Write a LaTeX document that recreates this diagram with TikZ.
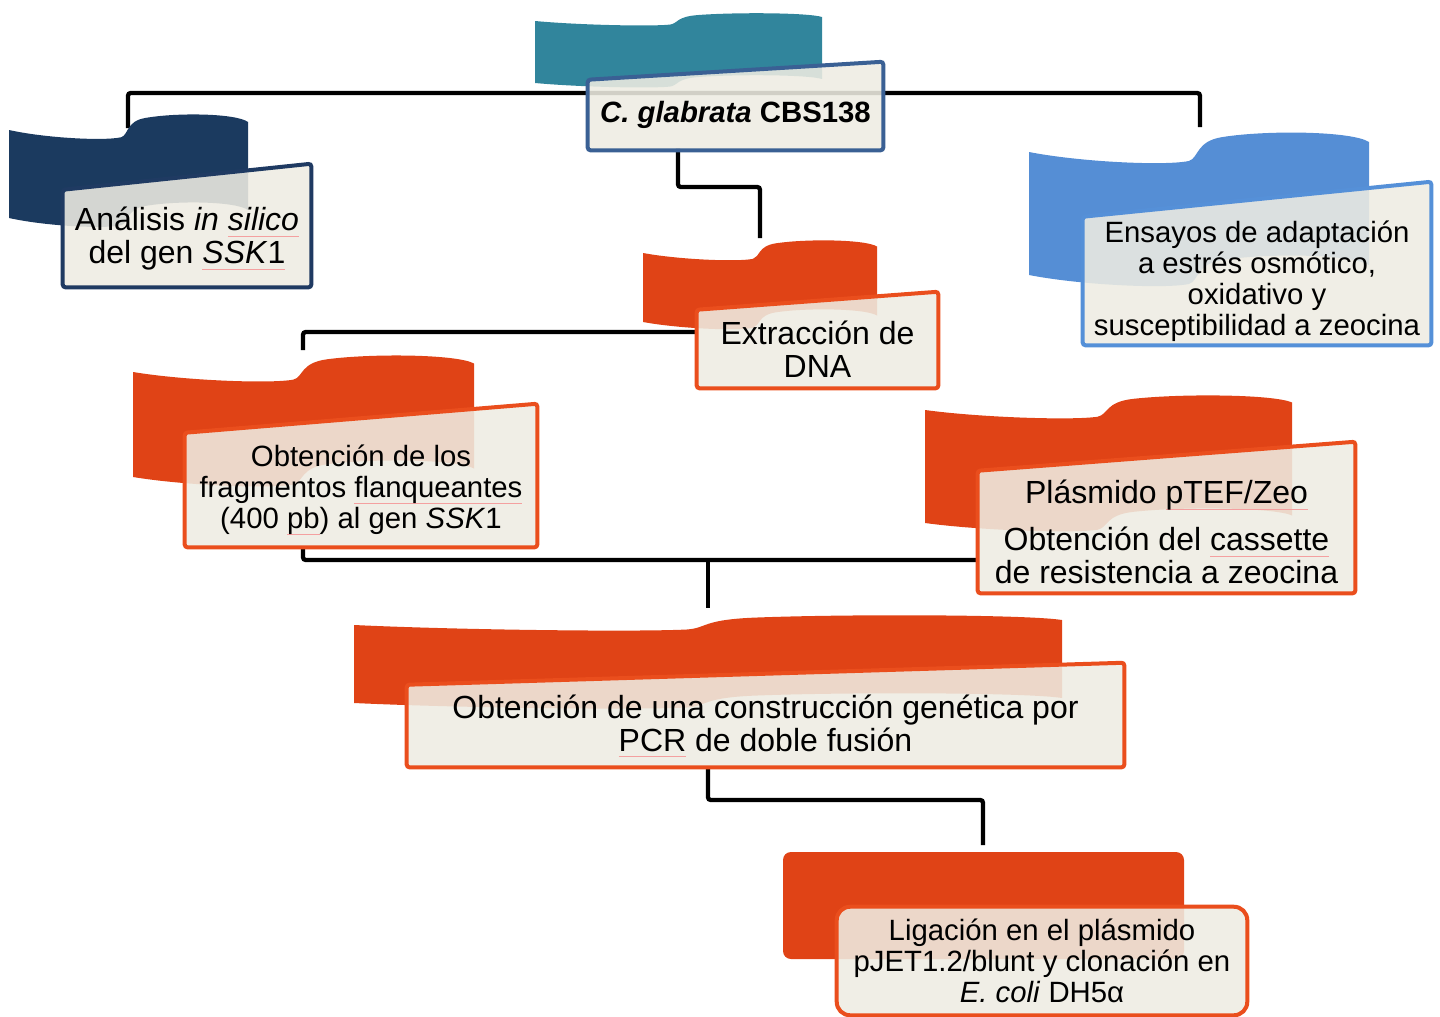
\documentclass[tikz,border=0pt]{standalone}
\usepackage{fontspec}
\setmainfont{Liberation Sans}
\usetikzlibrary{calc}

\definecolor{tealback}{HTML}{31859C}
\definecolor{navyback}{HTML}{1B3A5F}
\definecolor{skyback}{HTML}{558ED5}
\definecolor{rustback}{HTML}{E04316}
\definecolor{glabedge}{HTML}{3A6094}
\definecolor{navyedge}{HTML}{1F3A62}
\definecolor{skyedge}{HTML}{5590D8}
\definecolor{rustedge}{HTML}{EA4E1D}
\definecolor{cream}{HTML}{EEECE2}
\definecolor{spellred}{HTML}{F4A0A0}

\pgfdeclarelayer{wires}
\pgfdeclarelayer{backs}
\pgfdeclarelayer{fronts}
\pgfsetlayers{wires,backs,fronts,main}

% thin spell-check style underline
\newsavebox\spellbox
\newcommand\spellmark[1]{\sbox\spellbox{#1}%
  \rlap{\textcolor{spellred}{\rule[-0.2em]{\wd\spellbox}{0.035em}}}\usebox\spellbox}

% wavy back shape: x, y (top-left corner), width, height, amplitude, colour
\newcommand\backwave[6]{%
  \begin{pgfonlayer}{backs}
  \begin{scope}[shift={(#1,#2)},xscale=#3]
    \fill[#6] (0,0)
      .. controls (0.15,0.5*#5) and (0.4,0.7*#5) .. (0.47,0.45*#5)
      .. controls (0.5,0.3*#5) and (0.49,-0.55*#5) .. (0.57,-0.75*#5)
      .. controls (0.7,-1.1*#5) and (0.95,-1.05*#5) .. (1,-0.5*#5)
      -- (1,#4-0.5*#5)
      .. controls (0.95,#4-1.05*#5) and (0.7,#4-1.1*#5) .. (0.57,#4-0.75*#5)
      .. controls (0.49,#4-0.55*#5) and (0.5,#4+0.3*#5) .. (0.47,#4+0.45*#5)
      .. controls (0.4,#4+0.7*#5) and (0.15,#4+0.5*#5) .. (0,#4)
      -- cycle;
  \end{scope}
  \end{pgfonlayer}}

% translucent front card with a slanted top edge: node, rise of the right corner, edge colour
\newcommand\frontcard[3]{%
  \begin{pgfonlayer}{fronts}
    \filldraw[cardface,draw=#3] (#1.south west) -- (#1.south east)
      -- ($(#1.north east)+(0,-#2)$) -- (#1.north west) -- cycle;
  \end{pgfonlayer}}

\tikzset{
  cardface/.style={fill=cream,fill opacity=0.88,line width=3pt,rounded corners=2pt},
  card/.style 2 args={inner sep=0pt,align=center,text=black,
    minimum width=#1*0.75pt,minimum height=#2*0.75pt},
  conn/.style={draw=black,line width=3.2pt,rounded corners=2pt},
  big/.style={font=\fontsize{24}{24.75}\selectfont},
  mid/.style={font=\fontsize{22}{23.25}\selectfont},
}

\begin{document}
\begin{tikzpicture}[x=0.75pt,y=-0.75pt]
\useasboundingbox (0,0) rectangle (1440,1017);

% ---- text cards ----
\node[card={295}{70},mid] (glab) at (735.5,115)
  {\textbf{\textit{C. glabrata} CBS138}};
\node[card={248}{97},big] (ana) at (187,238.5)
  {Análisis \textit{in \spellmark{silico}}\\del gen \spellmark{\textit{SSK}1}};
\node[card={348}{128},mid] (ens) at (1257,281)
  {Ensayos de adaptación\\a estrés osmótico,\\oxidativo y\\susceptibilidad a zeocina};
\node[card={241}{78},big] (ext) at (817.5,349)
  {Extracción de\\DNA};
\node[card={352}{114},mid] (obt) at (361,490)
  {Obtención de los\\fragmentos \spellmark{flanqueantes}\\(400 \spellmark{pb}) al gen \textit{SSK}1};
\node[card={377}{122},big] (pla) at (1166.5,532)
  {Plásmido \spellmark{pTEF/Zeo}\\[10pt]Obtención del \spellmark{cassette}\\de resistencia a zeocina};
\node[card={717}{82},big] (con) at (765.5,726)
  {Obtención de una construcción genética por\\\spellmark{PCR} de doble fusión};
\node[card={410}{108},mid] (lig) at (1042,961)
  {Ligación en el plásmido\\pJET1.2/blunt y clonación en\\\textit{E. coli} DH5α};

% ---- card faces ----
\frontcard{glab}{18}{glabedge}
\frontcard{ana}{26}{navyedge}
\frontcard{ens}{35}{skyedge}
\frontcard{ext}{18}{rustedge}
\frontcard{obt}{29}{rustedge}
\frontcard{pla}{29}{rustedge}
\frontcard{con}{22}{rustedge}
\begin{pgfonlayer}{fronts}
  \filldraw[cardface,draw=rustedge,rounded corners=10pt]
    (lig.south west) rectangle (lig.north east);
\end{pgfonlayer}

% ---- coloured shapes behind the cards ----
\backwave{535}{21}{287}{62}{8}{tealback}
\backwave{9}{130}{239}{88}{16}{navyback}
\backwave{1029}{152}{340}{123}{20}{skyback}
\backwave{643}{253}{234}{69}{13}{rustback}
\backwave{133}{372}{341}{105}{17}{rustback}
\backwave{925}{410}{367}{113}{15}{rustback}
\backwave{354}{625}{708}{78}{10}{rustback}
\begin{pgfonlayer}{backs}
  \fill[rustback,rounded corners=6pt] (783,852) rectangle (1184,959);
\end{pgfonlayer}

% ---- connector end points ----
\coordinate (anaIn) at (128,128);
\coordinate (ensIn) at (1200,127);
\coordinate (glabOut) at (678,148);
\coordinate (extIn) at (760,238);
\coordinate (extOut) at (697,332);
\coordinate (obtIn) at (303,350);
\coordinate (obtOut) at (303,547);
\coordinate (plaIn) at (978,560);
\coordinate (join) at (708,560);
\coordinate (conIn) at (708,608);
\coordinate (conOut) at (708,767);
\coordinate (ligIn) at (983,845);

% ---- connectors ----
\begin{pgfonlayer}{wires}
  \draw[conn] (anaIn) -- ++(0,-35) -| (ensIn);
  \draw[conn] (glabOut) -- ++(0,39) -| (extIn);
  \draw[conn] (extOut) -| (obtIn);
  \draw[conn] (obtOut) |- (plaIn);
  \draw[conn] (join) -- (conIn);
  \draw[conn] (conOut) -- ++(0,33) -| (ligIn);
\end{pgfonlayer}
\end{tikzpicture}
\end{document}
